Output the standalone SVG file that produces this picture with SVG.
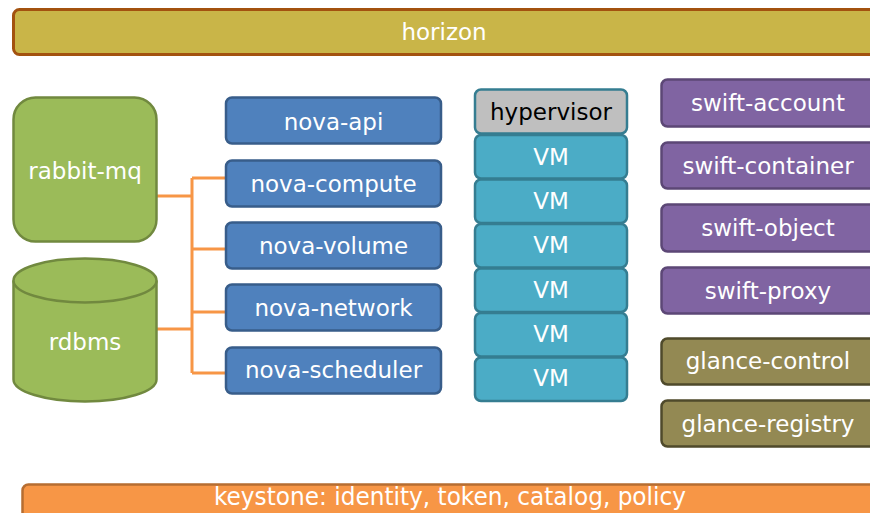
<svg xmlns="http://www.w3.org/2000/svg" width="870" height="513" viewBox="0 0 870 513">
<style>
text{font-family:"DejaVu Sans","Liberation Sans",sans-serif;font-size:23px;fill:#fff;text-anchor:middle;dominant-baseline:central}
.green{fill:#9BBB59;stroke:#71893F;stroke-width:2.5}
.nova{fill:#4F81BD;stroke:#385D8A;stroke-width:2.5}
.vm{fill:#4BACC6;stroke:#357D91;stroke-width:2.5}
.hyp{fill:#BFBFBF;stroke:#357D91;stroke-width:2.5}
.swift{fill:#8064A2;stroke:#5C4776;stroke-width:2.5}
.glance{fill:#938953;stroke:#4F4A2B;stroke-width:2.5}
.conn{fill:none;stroke:#F79646;stroke-width:3}
</style>
<rect width="870" height="513" fill="#fff"/>
<g id="horizon">
<rect x="13.5" y="9.5" width="862" height="45" rx="6" fill="#C9B548" stroke="#A3520F" stroke-width="3"/>
<text x="444" y="32">horizon</text>
</g>
<g id="connectors">
<path class="conn" d="M157 196H192M157 329H192M192 178V373M192 178H226M192 249H226M192 312H226M192 373H226"/>
</g>
<g id="rabbit-mq">
<rect class="green" x="13.5" y="97.5" width="143" height="144" rx="22"/>
<text x="85" y="171">rabbit-mq</text>
</g>
<g id="rdbms">
<path class="green" d="M13.5 280.5V379.5A71.5 22 0 0 0 156.5 379.5V280.5"/>
<ellipse class="green" cx="85" cy="280.5" rx="71.5" ry="22"/>
<text x="85" y="342">rdbms</text>
</g>
<g id="nova-api"><rect class="nova" x="226" y="97.5" width="215" height="46" rx="6"/><text x="333.5" y="122">nova-api</text></g>
<g id="nova-compute"><rect class="nova" x="226" y="160.5" width="215" height="46" rx="6"/><text x="333.5" y="184">nova-compute</text></g>
<g id="nova-volume"><rect class="nova" x="226" y="222.5" width="215" height="46" rx="6"/><text x="333.5" y="246">nova-volume</text></g>
<g id="nova-network"><rect class="nova" x="226" y="284.5" width="215" height="46" rx="6"/><text x="333.5" y="308">nova-network</text></g>
<g id="nova-scheduler"><rect class="nova" x="226" y="347.5" width="215" height="46" rx="6"/><text x="333.5" y="370">nova-scheduler</text></g>
<g id="hypervisor"><rect class="hyp" x="475" y="89.5" width="152" height="44" rx="6"/><text x="551" y="112" style="fill:#000">hypervisor</text></g>
<g id="vm1"><rect class="vm" x="475" y="135" width="152" height="43.5" rx="6"/><text x="551" y="157">VM</text></g>
<g id="vm2"><rect class="vm" x="475" y="179.5" width="152" height="43.5" rx="6"/><text x="551" y="201">VM</text></g>
<g id="vm3"><rect class="vm" x="475" y="224" width="152" height="43.5" rx="6"/><text x="551" y="245">VM</text></g>
<g id="vm4"><rect class="vm" x="475" y="268.5" width="152" height="43.5" rx="6"/><text x="551" y="290">VM</text></g>
<g id="vm5"><rect class="vm" x="475" y="313" width="152" height="43.5" rx="6"/><text x="551" y="334">VM</text></g>
<g id="vm6"><rect class="vm" x="475" y="357.5" width="152" height="43.5" rx="6"/><text x="551" y="378">VM</text></g>
<g id="swift-account"><rect class="swift" x="661.5" y="79.5" width="216" height="47" rx="6"/><text x="768" y="103">swift-account</text></g>
<g id="swift-container"><rect class="swift" x="661.5" y="142.5" width="216" height="46" rx="6"/><text x="768" y="166">swift-container</text></g>
<g id="swift-object"><rect class="swift" x="661.5" y="204.5" width="216" height="47" rx="6"/><text x="768" y="228">swift-object</text></g>
<g id="swift-proxy"><rect class="swift" x="661.5" y="267.5" width="216" height="46" rx="6"/><text x="768" y="291">swift-proxy</text></g>
<g id="glance-control"><rect class="glance" x="661.5" y="338.5" width="216" height="46" rx="6"/><text x="768" y="361">glance-control</text></g>
<g id="glance-registry"><rect class="glance" x="661.5" y="400.5" width="216" height="46" rx="6"/><text x="768" y="424">glance-registry</text></g>
<g id="keystone">
<rect x="22.5" y="484.5" width="860" height="45" rx="6" fill="#F79646" stroke="#B66D31" stroke-width="2.5"/>
<text x="450" y="496" style="font-family:'DejaVu Sans Condensed','DejaVu Sans',sans-serif;font-size:25px" textLength="472" lengthAdjust="spacingAndGlyphs">keystone: identity, token, catalog, policy</text>
</g>
</svg>
